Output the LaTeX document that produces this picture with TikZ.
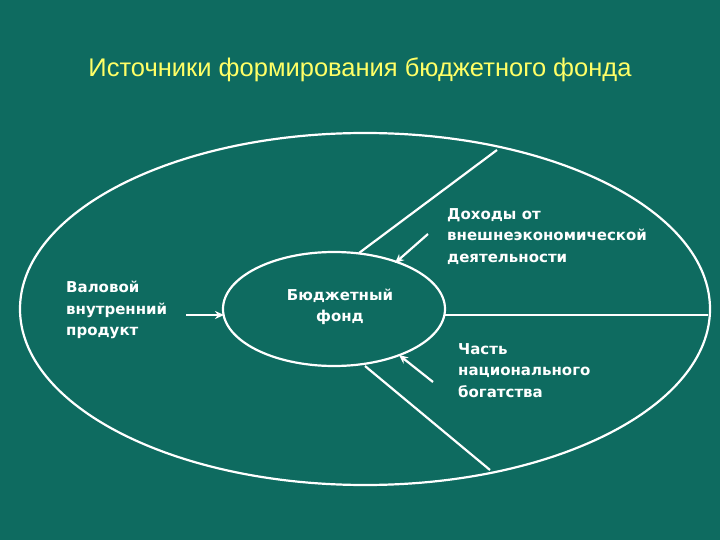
\documentclass[tikz,border=0pt]{standalone}
\usepackage{fontspec}
\setmainfont{DejaVu Sans}
\newfontfamily\titlefont{Liberation Sans}
\usetikzlibrary{arrows.meta,shapes.geometric}
\definecolor{bg}{HTML}{0E6B60}
\definecolor{ttl}{HTML}{FFFF66}
\begin{document}
\begin{tikzpicture}[x=1pt,y=-1pt,
  ln/.style={draw=white,line width=2.2pt},
  ar/.style={ln,-{Stealth[length=9pt,width=8pt]}},
  lbl/.style={text=white,font=\bfseries\fontsize{15}{21.5}\selectfont,align=left,anchor=north west,inner sep=0}]
\fill[bg] (0,0) rectangle (720,540);
\useasboundingbox (0,0) rectangle (720,540);
\node[text=ttl,font=\titlefont\fontsize{25.5}{28}\selectfont] (title) at (360,70) {Источники формирования бюджетного фонда};
\node[ln,ellipse,minimum width=690,minimum height=352,inner sep=0] (outer) at (365,309) {};
\node[ln,ellipse,minimum width=222,minimum height=114,inner sep=0] (inner) at (334,309) {};
\node[text=white,font=\bfseries\fontsize{15}{21.5}\selectfont,align=center] (bf) at (340,307) {Бюджетный\\фонд};
\node[lbl] (vvp) at (66,281) {Валовой\\внутренний\\продукт};
\node[lbl] (dox) at (447,208) {Доходы от\\внешнеэкономической\\деятельности};
\node[lbl] (nb) at (458,343) {Часть\\национального\\богатства};
\coordinate (p1) at (359,253); \coordinate (q1) at (497,150);
\coordinate (p2) at (445,315); \coordinate (q2) at (708,315);
\coordinate (p3) at (365,366); \coordinate (q3) at (490,470);
\draw[ln] (p1) -- (q1);
\draw[ln] (p2) -- (q2);
\draw[ln] (p3) -- (q3);
\coordinate (a1) at (428,234); \coordinate (b1) at (395,263);
\coordinate (a2) at (433,382); \coordinate (b2) at (399,355);
\coordinate (a3) at (186,315); \coordinate (b3) at (224,315);
\draw[ar] (a1) -- (b1);
\draw[ar] (a2) -- (b2);
\draw[ar] (a3) -- (b3);
\end{tikzpicture}
\end{document}
